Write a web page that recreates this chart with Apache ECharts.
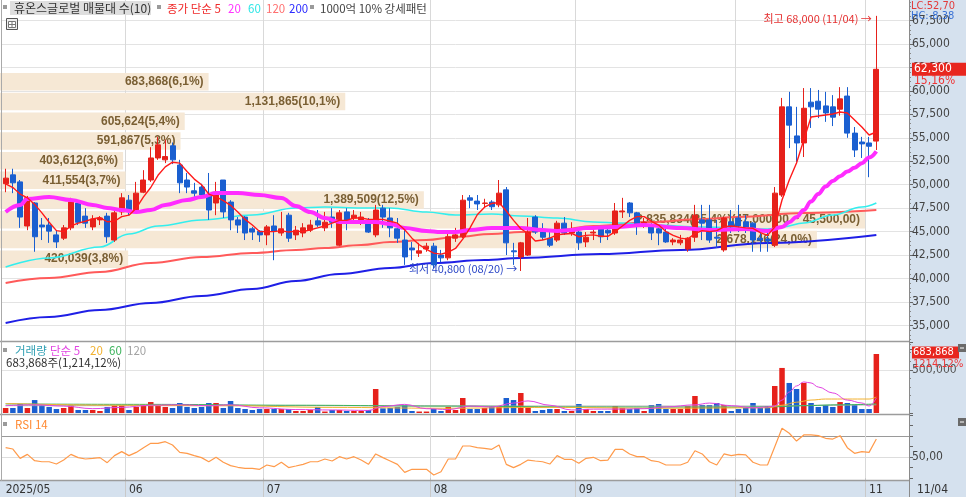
<!DOCTYPE html>
<html>
<head>
<meta charset="utf-8">
<script src="https://cdn.jsdelivr.net/npm/echarts@6/dist/echarts.min.js"></script>
<style>
html,body{margin:0;padding:0;background:#ffffff;}
#chart{width:966px;height:497px;}
</style>
</head>
<body>
<div id="chart"></div>
<script>
// ---------------- data ----------------
const dates = [
'05/08','05/09','05/12','05/13','05/14','05/15','05/16','05/19','05/20','05/21','05/22','05/23','05/26','05/27','05/28','05/29','05/30',
'06/02','06/04','06/05','06/09','06/10','06/11','06/12','06/13','06/16','06/17','06/18','06/19','06/20','06/23','06/24','06/25','06/26','06/27','06/30',
'07/01','07/02','07/03','07/04','07/07','07/08','07/09','07/10','07/11','07/14','07/15','07/16','07/17','07/18','07/21','07/22','07/23','07/24','07/25','07/28','07/29','07/30','07/31',
'08/01','08/04','08/05','08/06','08/07','08/08','08/11','08/12','08/13','08/14','08/18','08/19','08/20','08/21','08/22','08/25','08/26','08/27','08/28','08/29',
'09/01','09/02','09/03','09/04','09/05','09/08','09/09','09/10','09/11','09/12','09/15','09/16','09/17','09/18','09/19','09/22','09/23','09/24','09/25','09/26','09/29','09/30',
'10/01','10/02','10/10','10/13','10/14','10/15','10/16','10/17','10/20','10/21','10/22','10/23','10/24','10/27','10/28','10/29','10/30','10/31',
'11/03','11/04'
];
const opens = [50100,51050,50300,45600,48050,45700,45700,44650,44300,45400,
 48050,46650,45500,46250,46650,44100,47100,48350,47100,49200,
 50500,52850,52650,54150,52100,50500,49350,49750,48900,48050,
 50500,48150,46250,46550,45300,45050,44650,45600,44850,46750,
 44650,44850,45150,46150,45400,46550,43550,47100,46450,46250,
 45800,44650,47500,46450,45300,44100,43250,42700,43150,43450,
 42500,42200,44300,44450,48600,48250,48000,48150,47850,49450,
 42950,42300,42500,46550,44950,44300,44100,45900,44850,44950,
 43900,44850,45300,45150,44850,47100,48050,47000,45900,45700,
 45300,44950,43900,43800,43150,44400,46250,46250,44400,43050,
 46050,46450,46050,45900,44300,44200,43550,48900,58300,55200,
 54450,58800,58900,58400,58300,58050,59450,55500,54550,54450,
 54650];
const closes = [50700,50200,46550,48600,44450,45500,45050,43900,45400,48150,
 46000,45900,46350,46450,44450,47000,48600,47300,49100,50500,
 52850,54250,53000,52650,50200,49750,49100,48900,47300,49200,
 47100,46250,45700,44850,44950,44650,45500,45050,45300,44300,
 45150,45400,45700,45700,46000,46000,47000,46000,46750,46550,
 44950,47300,46550,45400,44300,42300,43050,42950,43450,41450,
 42200,44450,44650,48350,48350,47950,48050,47650,49100,43800,
 42850,43800,44950,44950,44400,43550,45900,44850,45150,43800,
 44400,44950,44450,44850,47200,47200,47000,45700,46000,44850,
 44850,43900,44100,44100,44300,46750,45900,44100,44300,46450,
 45500,45600,45200,44100,44100,44000,49100,58300,56350,54450,
 58150,58300,58050,57650,57200,59150,55500,53700,54350,54100,
 62300];
const lows = [49200,49100,45400,45150,42850,44100,43800,43250,44100,45150,
 45700,45400,45150,45700,43800,43900,46750,46750,47000,49100,
 50300,52650,52300,52200,49100,49100,48700,48600,46250,46750,
 46450,45150,44850,44100,44100,43900,43550,41950,44550,43900,
 44100,44400,44950,45500,45050,45400,43450,45150,46000,45700,
 44850,44400,45400,44400,43800,41450,41950,42300,42850,41100,
 41750,41950,43900,44300,47500,47300,47600,47300,47600,42500,
 41450,40800,42400,44750,44100,43350,43900,44650,44550,43050,
 43350,44100,43800,44100,44650,46450,46550,44650,45400,44100,
 43550,43800,43550,43550,42850,43900,44100,43800,43250,42850,
 44850,44950,44850,42850,42850,42850,43350,48700,53900,52400,
 52950,56050,57100,56700,56250,57350,55000,52950,52850,50800,
 53700];
const highs = [51700,51700,50500,48800,48150,46450,46450,45150,45700,48600,
 48350,47500,46750,46650,47000,47500,49100,48900,50300,51550,
 54000,55100,54800,54500,52650,51250,50200,50100,51250,50300,
 50500,48350,46550,46650,45500,45150,45700,46750,47100,47000,
 45600,45900,46250,47300,47100,47500,47300,47500,47300,47100,
 46450,47850,47850,47500,46450,45150,43900,43800,43800,43800,
 43050,45150,45400,48900,48900,48900,48500,48350,50500,49750,
 43800,43900,46450,46750,45900,44950,46150,46550,46000,45300,
 44950,45500,45500,45500,48050,48600,48150,47100,46450,45900,
 45500,45500,44300,44650,44400,47850,47850,47850,46250,46550,
 47300,47850,46750,46000,45150,44850,49750,59250,59900,58300,
 60300,60300,60100,59900,59550,60400,60400,56150,55100,55100,
 68000];
const volumes = [58000,58000,104000,58000,150000,93000,70000,46000,58000,93000,
 35000,35000,35000,23000,70000,93000,93000,35000,70000,93000,
 127000,93000,70000,58000,116000,70000,58000,70000,116000,116000,
 58000,139000,58000,46000,35000,46000,46000,46000,46000,46000,
 23000,23000,35000,70000,17000,35000,35000,23000,23000,23000,
 35000,278000,54000,58000,70000,93000,23000,17000,17000,46000,
 23000,70000,35000,174000,46000,46000,58000,70000,70000,174000,
 150000,232000,70000,23000,35000,46000,46000,23000,23000,104000,
 46000,23000,23000,23000,81000,58000,46000,58000,23000,93000,
 104000,46000,46000,46000,81000,197000,93000,93000,116000,93000,
 23000,46000,58000,116000,58000,81000,313000,522000,348000,278000,
 348000,116000,70000,93000,70000,127000,116000,93000,46000,46000,
 683868];
const ma5 = [50100,49700,49000,48600,47900,47000,46000,45100,45000,45600,
 45900,46100,46350,46500,46050,46100,46600,46750,47500,48700,
 49700,51000,51900,52400,52300,51400,50600,50000,49000,48700,
 48300,47800,47100,46300,45700,45000,45000,45000,45100,44950,
 45050,45000,45200,45400,45600,45900,46200,46200,46450,46450,
 46300,46300,46300,46100,45900,45200,44300,43600,43100,42700,
 42600,42800,43200,44200,45400,46800,47600,48000,48100,47200,
 46200,45300,44800,44000,44100,44300,44650,44750,44800,44450,
 44600,44650,44500,44500,45000,45600,46200,46600,46600,46100,
 45700,45000,44600,44300,44200,44800,45100,45000,45100,45500,
 45600,45500,45400,45350,44900,44600,45490,48370,50500,52310,
 54760,57220,57320,57430,57540,57750,57640,56900,56150,55300,
 55620];
// smooth averages, read at points [candle index, price]
const ma20 = [[0,47090],[2,47840],[3,48470],[6,48690],[9,48370],[12,47840],[14,47520],[16,47300],[18,47090],[20,47300],[22,47840],[25,48370],[27,48690],[29,49120],[32,49120],[35,48900],[38,48580],[40,47730],[42,47090],[44,46450],[46,46030],[49,46030],[51,46030],[53,45810],[55,45380],[58,45070],[60,44960],[62,44960],[64,45170],[67,45380],[69,45380],[71,45380],[74,45170],[76,45070],[78,45170],[80,45380],[84,45490],[88,45700],[93,45380],[97,45170],[102,45280],[105,45070],[107,45490],[108,46000],[109,46560],[110,47300],[111,48200],[112,49000],[113,49800],[114,50400],[115,50900],[116,51400],[117,51800],[118,52300],[119,52900],[120,53550]];
const ma60 = [[0,41230],[6,42190],[13,43360],[17,44740],[21,45600],[27,46240],[34,46770],[40,47520],[44,47620],[49,47520],[53,47520],[58,47090],[62,46770],[67,46880],[71,46660],[76,46450],[81,46030],[85,45920],[89,45700],[96,45490],[105,45280],[107,45490],[110,45920],[114,46770],[118,47620],[120,48050]];
const ma120 = [[0,39520],[6,40050],[13,40690],[20,41650],[27,42290],[34,42720],[40,43040],[44,43250],[49,43570],[53,43890],[58,44110],[62,44430],[67,44740],[71,44960],[76,45170],[81,45600],[89,46030],[96,46350],[101,46560],[110,46980],[120,47300]];
const ma200 = [[0,35260],[6,35900],[13,36640],[20,37390],[27,38140],[34,38880],[40,39740],[46,40480],[53,41120],[59,41650],[66,41970],[71,42190],[82,42610],[93,43040],[105,43790],[120,44640]];
const volMa5 = [[0,85000],[4,95000],[8,80000],[12,50000],[16,65000],[20,90000],[24,95000],[28,85000],[31,95000],[35,60000],[40,40000],[45,35000],[50,30000],[52,75000],[55,100000],[58,50000],[61,40000],[64,80000],[67,70000],[70,115000],[72,140000],[75,90000],[78,35000],[81,45000],[85,45000],[88,50000],[91,70000],[95,95000],[97,115000],[100,85000],[103,60000],[105,70000],[106,81000],[107,150000],[108,243000],[109,313000],[110,360000],[111,348000],[112,301000],[114,232000],[116,150000],[118,116000],[119,81000],[120,174000]];
const volMa20 = [[0,110000],[15,90000],[30,85000],[45,65000],[60,55000],[75,65000],[90,55000],[105,60000],[107,90000],[109,125000],[111,150000],[113,162000],[119,162000],[120,185000]];
const volMa60 = [[0,105000],[20,100000],[40,90000],[60,80000],[80,70000],[100,68000],[106,72000],[110,85000],[115,95000],[120,105000]];
const volMa120 = [[0,85000],[40,85000],[80,80000],[106,80000],[113,90000],[120,95000]];
const rsi = [58.9,57.6,48.7,52.5,46.5,45.5,45.5,43.3,47.1,52.5,
 49.4,48.1,48.7,49.4,44.6,51.3,55.1,51.3,54.4,58.9,
 63.0,63.0,64.6,61.4,54.4,53.5,51.3,49.4,45.5,49.7,
 45.0,41.8,40.2,39.2,39.2,38.3,42.4,40.8,45.0,39.9,
 41.4,43.0,45.5,45.5,48.1,46.2,50.3,48.1,50.3,47.1,
 43.0,52.9,49.4,46.2,43.0,35.4,38.3,38.3,38.3,32.9,
 36.0,48.1,48.1,60.5,60.5,58.9,58.3,57.3,61.4,43.0,
 39.9,43.0,47.1,46.2,45.5,43.3,51.3,47.8,47.8,44.0,
 48.7,49.7,46.5,47.1,57.3,57.3,52.9,50.3,50.3,46.5,
 45.5,42.4,42.4,42.4,45.0,56.0,52.9,45.5,42.4,52.9,
 51.3,52.5,52.0,45.0,42.4,42.4,59.8,77.3,72.6,65.2,
 71.0,71.0,70.3,67.8,67.1,70.3,58.9,53.5,55.1,54.4,
 67.1];
// volume profile (매물대), top bin first
const profileVol = [683868,1131865,605624,591867,403612,411554,1389509,2835834,2678146,420039];
const profilePct = ['6,1','10,1','5,4','5,3','3,6','3,7','12,5','25,4','24,0','3,8'];
const profileNote = ['','','','','','','','(47,000,00 ~ 45,500,00)','',''];
const priceTicks = {min:32500, max:70000, step:2500, shownMin:35000, shownMax:67500};

// ---------------- chart ----------------
const RED = '#e6211b', BLUE = '#1a5fd0';
const fontNum = "'Liberation Sans Narrow','DejaVu Sans Condensed','Liberation Sans',sans-serif";
const fontKr = "'Noto Sans CJK KR','Noto Sans',sans-serif";
const N = dates.length;
const cats = dates.concat(['p1','p2','p3','p4']);
const isMonthStart = i => i < N && (i === 0 || dates[i].slice(0,2) !== dates[i-1].slice(0,2));
const monthLabel = i => i === 0 ? '2025/' + dates[0].slice(0,2) : dates[i].slice(0,2);
const fmt = v => Math.round(v).toLocaleString('en-US');

const candleData = opens.map((o,i) => [o, closes[i], lows[i], highs[i]]);
const volData = volumes.map((v,i) => ({value: v, itemStyle: {color: closes[i] >= opens[i] ? RED : BLUE}}));
const profileCats = profileVol.map((v,i) => 'bin' + i);

const G0 = {left:2, width:907, top:-2.9, height:351.75};
const G1 = {left:0, width:909, top:72, height:197};
const G2 = {left:2, width:907, top:342, height:71};
const G3 = {left:2, width:907, top:415, height:63};
const VOLMAX = 822700;
const priceY = v => G0.top + (priceTicks.max - v) / (priceTicks.max - priceTicks.min) * G0.height;
const volY = v => G2.top + (VOLMAX - v) / VOLMAX * G2.height;

const priceSplitColors = [];
for (let v = priceTicks.min; v <= priceTicks.max; v += priceTicks.step)
  priceSplitColors.push((v < priceTicks.shownMin || v > priceTicks.shownMax) ? 'rgba(0,0,0,0)' : '#e3e3e3');

function catAxis(gi, extra) {
  return Object.assign({
    type: 'category', gridIndex: gi, data: cats, boundaryGap: true,
    axisLine: {show: false}, axisTick: {show: false}, axisLabel: {show: false},
    splitLine: {show: true, interval: (i) => i > 0 && isMonthStart(i), lineStyle: {color: '#d9d9d9', width: 1}}
  }, extra || {});
}
function rightAxis(gi, extra) {
  return Object.assign({
    type: 'value', gridIndex: gi, position: 'right', scale: false,
    axisLine: {show: false},
    axisTick: {show: true, length: 4, lineStyle: {color: '#666'}},
    minorTick: {show: true, splitNumber: 5, length: 2, lineStyle: {color: '#888'}},
    axisLabel: {color: '#444', fontSize: 12, fontFamily: fontNum, margin: 3}
  }, extra || {});
}
function lineSeries(data, color, width, xi, yi, smooth, z) {
  return {type: 'line', xAxisIndex: xi, yAxisIndex: yi, data: data, showSymbol: false, symbol: 'none',
    smooth: smooth, smoothMonotone: 'x', lineStyle: {color: color, width: width}, z: z, silent: true, connectNulls: true};
}
function txt(x, y, text, fill, size, family, extra) {
  return Object.assign({type: 'text', x: x, y: y, z: 60, silent: true,
    style: Object.assign({text: text, fill: fill, font: (size || 12) + 'px ' + (family || fontKr), textVerticalAlign: 'middle', textAlign: 'left'}, (extra && extra.style) || {})},
    extra && extra.z ? {z: extra.z} : {});
}
function sq(x, y) { return {type: 'rect', z: 60, silent: true, shape: {x: x, y: y, width: 4, height: 4}, style: {fill: '#9a9a9a'}}; }

const lastY = priceY(closes[N-1]);
const lastVY = volY(volumes[N-1]);

const graphic = [
  {type: 'rect', z: -10, silent: true, shape: {x: 909, y: 0, width: 57, height: 497}, style: {fill: '#d5e1ee'}},
  {type: 'rect', z: -10, silent: true, shape: {x: 0, y: 481, width: 909, height: 16}, style: {fill: '#d5e1ee'}},
  {type: 'line', z: 50, silent: true, shape: {x1: 0, y1: 341.5, x2: 909, y2: 341.5}, style: {stroke: '#9c9c9c', lineWidth: 1.5}},
  {type: 'line', z: 50, silent: true, shape: {x1: 0, y1: 414.5, x2: 909, y2: 414.5}, style: {stroke: '#9c9c9c', lineWidth: 1.5}},
  {type: 'line', z: 50, silent: true, shape: {x1: 0, y1: 480.5, x2: 909, y2: 480.5}, style: {stroke: '#9c9c9c', lineWidth: 1.5}},
  {type: 'line', z: 50, silent: true, shape: {x1: 909.5, y1: 0, x2: 909.5, y2: 497}, style: {stroke: '#8a8a8a', lineWidth: 1}},
  {type: 'line', z: 50, silent: true, shape: {x1: 1.5, y1: 0, x2: 1.5, y2: 481}, style: {stroke: '#aaaaaa', lineWidth: 1}},
  // top legend
  sq(3, 5),
  {type: 'rect', z: 59, silent: true, shape: {x: 10, y: 1, width: 141, height: 14}, style: {fill: '#dedede'}},
  txt(14, 8.5, '휴온스글로벌 매물대 수(10)', '#333', 12),
  sq(157, 5),
  txt(167, 8.5, '종가 단순 5', '#f02a2a', 11.5),
  txt(228, 8.5, '20', '#ff33ff', 11.5),
  txt(248, 8.5, '60', '#2ee6e6', 11.5),
  txt(266, 8.5, '120', '#ff6f6f', 11.5),
  txt(289, 8.5, '200', '#2a2aff', 11.5),
  sq(310, 5),
  txt(320, 8.5, '1000억 10% 강세패턴', '#444', 11.5),
  {type: 'rect', z: 60, silent: true, shape: {x: 6.5, y: 18.5, width: 11, height: 11}, style: {fill: '#eeeeee', stroke: '#555', lineWidth: 1}},
  {type: 'rect', z: 61, silent: true, shape: {x: 8.5, y: 21.5, width: 7, height: 6}, style: {fill: '#ffffff', stroke: '#777', lineWidth: 1}},
  {type: 'line', z: 62, silent: true, shape: {x1: 12, y1: 21.5, x2: 12, y2: 27.5}, style: {stroke: '#777'}},
  {type: 'line', z: 62, silent: true, shape: {x1: 8.5, y1: 24.5, x2: 15.5, y2: 24.5}, style: {stroke: '#777'}},
  // volume legend
  sq(3, 348),
  txt(15, 350.5, '거래량', '#2f9fb3', 11.5),
  txt(50, 350.5, '단순 5', '#e244e2', 11.5),
  txt(90, 350.5, '20', '#f2b12e', 11.5),
  txt(109, 350.5, '60', '#3cb35c', 11.5),
  txt(127, 350.5, '120', '#a3a3a3', 11.5),
  txt(6, 362.5, '683,868주(1,214,12%)', '#333', 11.5),
  // RSI legend
  sq(3, 422),
  txt(15, 424.5, 'RSI 14', '#ff8a33', 11.5),
  // right side current values
  txt(911, 6, 'LC:52,70', '#e33a3a', 11, fontNum, {z: 70}),
  txt(911, 16.5, 'HC:-8,38', '#3a72d4', 11, fontNum, {z: 70}),
  {type: 'rect', z: 70, silent: true, shape: {x: 912, y: lastY - 6.5, width: 54, height: 13}, style: {fill: '#e8261e'}},
  txt(914, lastY, fmt(closes[N-1]), '#ffffff', 12, fontNum, {z: 71}),
  txt(914, lastY + 12, '15,16%', '#ef3535', 12, fontNum, {z: 71}),
  {type: 'rect', z: 70, silent: true, shape: {x: 912, y: lastVY - 7.5, width: 47, height: 12}, style: {fill: '#e8261e'}},
  txt(913, lastVY - 1.5, fmt(volumes[N-1]), '#ffffff', 11, fontNum, {z: 71}),
  txt(913, lastVY + 10.5, '1214,12%', '#ef3535', 11, fontNum, {z: 71}),
  {type: 'rect', z: 70, silent: true, shape: {x: 958, y: 344, width: 8, height: 8}, style: {fill: '#6a6a6a'}},
  {type: 'line', z: 71, silent: true, shape: {x1: 960, y1: 348, x2: 964, y2: 348}, style: {stroke: '#fff'}},
  {type: 'rect', z: 70, silent: true, shape: {x: 958, y: 418, width: 8, height: 8}, style: {fill: '#6a6a6a'}},
  {type: 'line', z: 71, silent: true, shape: {x1: 960, y1: 422, x2: 964, y2: 422}, style: {stroke: '#fff'}},
  txt(917, 490, dates[N-1], '#333', 12, fontNum, {z: 71})
];

const option = {
  animation: false,
  backgroundColor: '#ffffff',
  grid: [G0, G1, G2, G3].map(g => Object.assign({containLabel: false, outerBoundsMode: 'none'}, g)),
  xAxis: [
    catAxis(0),
    {type: 'value', gridIndex: 1, min: 0, max: 2980000, show: false},
    catAxis(2),
    catAxis(3, {
      axisLabel: {show: true, interval: (i) => isMonthStart(i), formatter: (v, i) => monthLabel(i),
        align: 'left', color: '#333', fontSize: 12, fontFamily: fontNum, margin: 6},
      axisTick: {show: true, interval: (i) => i > 0 && isMonthStart(i), length: 19, lineStyle: {color: '#c9c9c9'}}
    })
  ],
  yAxis: [
    rightAxis(0, {min: priceTicks.min, max: priceTicks.max, interval: priceTicks.step,
      axisLabel: {color: '#444', fontSize: 12, fontFamily: fontNum, margin: 3,
        formatter: v => (v < priceTicks.shownMin || v > priceTicks.shownMax) ? '' : fmt(v)},
      splitLine: {show: true, lineStyle: {color: priceSplitColors, width: 1}}}),
    {type: 'category', gridIndex: 1, data: profileCats, inverse: true, show: false},
    rightAxis(2, {min: 0, max: VOLMAX, interval: 500000,
      axisLabel: {color: '#555', fontSize: 12, fontFamily: fontNum, margin: 3,
        formatter: v => v === 500000 ? fmt(v) : ''},
      splitLine: {show: true, lineStyle: {color: ['rgba(0,0,0,0)', '#e3e3e3', 'rgba(0,0,0,0)']}}}),
    rightAxis(3, {min: 30, max: 90, interval: 10,
      minorTick: {show: false},
      axisLabel: {color: '#444', fontSize: 12, fontFamily: fontNum, margin: 3,
        formatter: v => v === 50 ? '50,00' : ''},
      splitLine: {show: true, lineStyle: {color: ['rgba(0,0,0,0)', 'rgba(0,0,0,0)', '#dddddd', 'rgba(0,0,0,0)', '#9a9a9a', 'rgba(0,0,0,0)', 'rgba(0,0,0,0)']}}})
  ],
  series: [
    {type: 'bar', name: 'profile', xAxisIndex: 1, yAxisIndex: 1, data: profileVol, barCategoryGap: '11%',
      itemStyle: {color: '#f6e8d5'}, z: 1, silent: true,
      label: {show: true, position: 'insideRight', distance: 5, color: '#7a5f33', fontSize: 12, fontWeight: 'bold',
        fontFamily: "'Liberation Sans',sans-serif",
        formatter: p => fmt(profileVol[p.dataIndex]) + '(' + profilePct[p.dataIndex] + '%)' + profileNote[p.dataIndex]}},
    lineSeries(ma200, '#1f1fe6', 2, 0, 0, 0.4, 3),
    lineSeries(ma120, '#ff5a5a', 2, 0, 0, 0.4, 3),
    lineSeries(ma60, '#33eeee', 1.6, 0, 0, 0.4, 3),
    {type: 'candlestick', name: 'price', xAxisIndex: 0, yAxisIndex: 0, data: candleData, barWidth: 5.5, z: 4, silent: true,
      itemStyle: {color: RED, color0: BLUE, borderColor: RED, borderColor0: BLUE, borderWidth: 1},
      markPoint: {symbol: 'rect', symbolSize: 1, itemStyle: {color: 'rgba(0,0,0,0)'}, silent: true,
        data: [
          {coord: [dates[120], highs[120]], label: {show: true, position: 'left', distance: 4, offset: [0, 3],
            formatter: '최고 ' + fmt(highs[120]) + ' (' + dates[120] + ') →', color: '#e53030', fontSize: 11, fontFamily: fontKr}},
          {coord: [dates[71], lows[71]], label: {show: true, position: 'left', distance: 3, offset: [0, -2],
            formatter: '최저 ' + fmt(lows[71]) + ' (' + dates[71] + ') →', color: '#2a45c6', fontSize: 11, fontFamily: fontKr}}
        ]}},
    lineSeries(ma20, '#ff2cff', 4, 0, 0, 0.4, 5),
    lineSeries(ma5, '#ff1a1a', 1.4, 0, 0, false, 6),
    {type: 'bar', name: 'volume', xAxisIndex: 2, yAxisIndex: 2, data: volData, barWidth: 5.5, z: 2, silent: true},
    lineSeries(volMa120, '#a8a8a8', 1, 2, 2, 0.4, 3),
    lineSeries(volMa60, '#3cb35c', 1, 2, 2, 0.4, 3),
    lineSeries(volMa20, '#f2b12e', 1, 2, 2, 0.4, 3),
    lineSeries(volMa5, '#e244e2', 1, 2, 2, 0.4, 3),
    lineSeries(rsi, '#ff9a4a', 1.2, 3, 3, false, 3)
  ],
  graphic: graphic
};

const chart = echarts.init(document.getElementById('chart'), null, {renderer: 'canvas'});
chart.setOption(option);
</script>
</body>
</html>
